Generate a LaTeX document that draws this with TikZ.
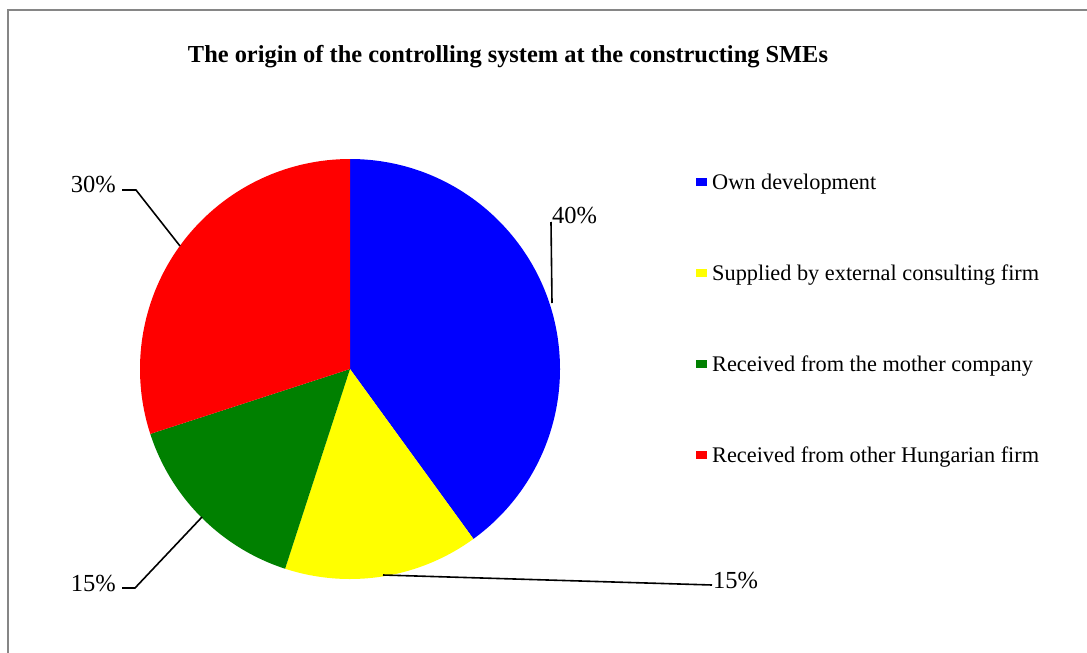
\documentclass[tikz,border=0pt]{standalone}
\usepackage{fontspec}
\setmainfont{Liberation Serif}
\definecolor{frm}{RGB}{134,134,134}
\definecolor{sblue}{RGB}{0,0,255}
\definecolor{syellow}{RGB}{255,255,0}
\definecolor{sgreen}{RGB}{0,128,0}
\definecolor{sred}{RGB}{255,0,0}
\tikzset{
  lbl/.style={inner sep=0pt, font=\fontsize{24.5}{26}\selectfont},
  legtxt/.style={inner sep=0pt, anchor=west, font=\fontsize{22.3}{24}\selectfont},
  legsq/.style={minimum width=11pt, minimum height=8pt, inner sep=0pt},
  leader/.style={black, line width=1.6pt},
}
\begin{document}
\begin{tikzpicture}[x=1pt,y=-1pt]
\useasboundingbox (0,0) rectangle (1087,653);
\fill[white] (0,0) rectangle (1087,653);
\draw[frm, line width=2pt] (8,653) -- (8,10) -- (1087,10);
% title
\node[inner sep=0pt, font=\bfseries\fontsize{24.4}{26}\selectfont] (title) at (508,57) {The origin of the controlling system at the constructing SMEs};
% pie
\coordinate (c) at (350,369);
\fill[sblue] (c) -- ++(-90:210) arc[start angle=-90, end angle=54, radius=210] -- cycle;
\fill[syellow] (c) -- ++(54:210) arc[start angle=54, end angle=108, radius=210] -- cycle;
\fill[sgreen] (c) -- ++(108:210) arc[start angle=108, end angle=162, radius=210] -- cycle;
\fill[sred] (c) -- ++(162:210) arc[start angle=162, end angle=270, radius=210] -- cycle;
% labels
\node[lbl, anchor=base west] (p40) at (552,223) {40\%};
\node[lbl, anchor=base east] (p30) at (116,192) {30\%};
\node[lbl, anchor=base east] (p15g) at (116,591) {15\%};
\node[lbl, anchor=base west] (p15y) at (713,588) {15\%};
% leaders
\coordinate (e40) at (552,303);
\coordinate (t40) at (551,222);
\coordinate (e30) at (180,246);
\coordinate (k30) at (136,190);
\coordinate (t30) at (122,190);
\coordinate (e15g) at (202,517);
\coordinate (k15g) at (135,588);
\coordinate (t15g) at (122,588);
\coordinate (e15y) at (383,575);
\coordinate (t15y) at (712,585);
\draw[leader] (e40) -- (t40);
\draw[leader] (e30) -- (k30) -- (t30);
\draw[leader] (e15g) -- (k15g) -- (t15g);
\draw[leader] (e15y) -- (t15y);
% legend
\node[legsq, fill=sblue] (q1) at (701,182) {};
\node[legsq, fill=syellow] (q2) at (701,273) {};
\node[legsq, fill=sgreen] (q3) at (701,364) {};
\node[legsq, fill=sred] (q4) at (701,455) {};
\node[legtxt] (t1) at (712,184) {Own development};
\node[legtxt] (t2) at (712,275) {Supplied by external consulting firm};
\node[legtxt] (t3) at (712,366) {Received from the mother company};
\node[legtxt] (t4) at (712,457) {Received from other Hungarian firm};
\end{tikzpicture}
\end{document}
